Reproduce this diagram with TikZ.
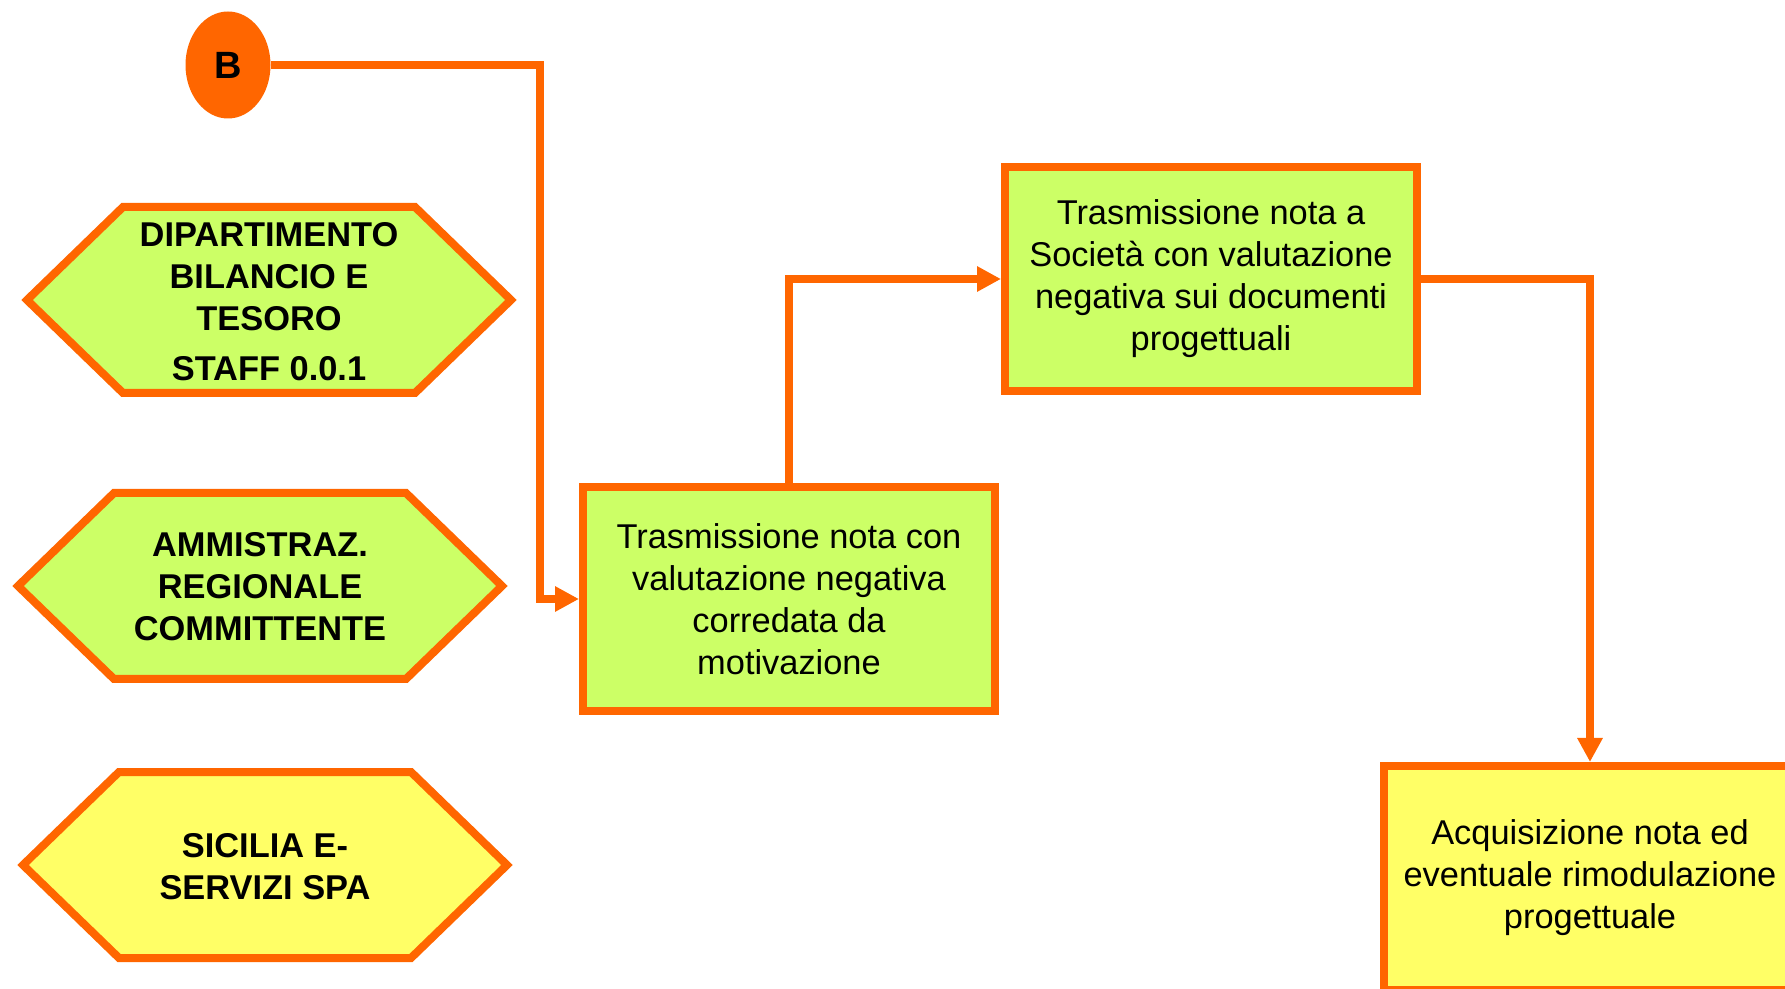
\documentclass[tikz,border=0pt]{standalone}
\usepackage{fontspec}
\setmainfont{Liberation Sans}
\usetikzlibrary{shapes.geometric,arrows.meta}
\definecolor{orng}{HTML}{FF6600}
\definecolor{lgreen}{HTML}{CCFF66}
\definecolor{lyellow}{HTML}{FFFF66}
\tikzset{
  taskbox/.style={draw=orng, line width=4pt, fill=lgreen, align=center, minimum width=206pt, minimum height=112pt, inner sep=0pt, font=\fontsize{17.2}{21}\selectfont},
  hexa/.style={draw=orng, line width=4pt},
  hexlabel/.style={align=center, inner sep=0pt, font=\bfseries\fontsize{17.2}{21}\selectfont},
  flow/.style={draw=orng, line width=4pt, -{Triangle[length=12pt,width=12pt]}}
}

\begin{document}
\begin{tikzpicture}[x=0.5pt,y=-0.5pt]
      \useasboundingbox (0,0) rectangle (1785,989);
      \foreach \cx/\cy/\col in {269/300/lgreen,260/586/lgreen,265/865/lyellow} {\draw[hexa,fill=\col] (\cx-242,\cy) -- (\cx-146,\cy-93) -- (\cx+146,\cy-93) -- (\cx+242,\cy) -- (\cx+146,\cy+93) -- (\cx-146,\cy+93) -- cycle; }
      \node[hexlabel] (dip) at (269,302) {DIPARTIMENTO\\BILANCIO E\\TESORO\\[4pt]STAFF 0.0.1};
      \node[hexlabel] (amm) at (260,587) {AMMISTRAZ.\\REGIONALE\\COMMITTENTE};
      \node[hexlabel] (sic) at (265,867) {SICILIA E-\\SERVIZI SPA};
      \node[ellipse, fill=orng, minimum width=42.5pt, minimum height=53.5pt, inner sep=0pt, font=\bfseries\fontsize{19}{21}\selectfont] (b) at (228,65) {B};
      \node[taskbox] (nota) at (789,599) {Trasmissione nota con\\valutazione negativa\\corredata da\\motivazione};
      \node[taskbox] (soc) at (1211,279) {Trasmissione nota a\\Società con valutazione\\negativa sui documenti\\progettuali};
      \node[taskbox, fill=lyellow] (acq) at (1590,878) {Acquisizione nota ed\\eventuale rimodulazione\\progettuale};
      \coordinate (bend) at (540,65);
      \draw[flow] (b.east) -- (bend) |- (nota.west);
      \draw[flow] (nota.north) |- (soc.west);
      \draw[flow] (soc.east) -| (acq.north);
   \end{tikzpicture}
\end{document}
